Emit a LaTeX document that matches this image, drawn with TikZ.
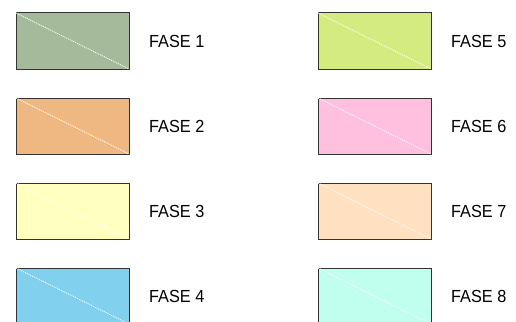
\documentclass[tikz,border=0pt]{standalone}
\usepackage{fontspec}
\setmainfont{Liberation Sans}
\definecolor{c1}{RGB}{165,186,155}
\definecolor{c2}{RGB}{239,184,130}
\definecolor{c3}{RGB}{255,255,192}
\definecolor{c4}{RGB}{128,208,238}
\definecolor{c5}{RGB}{212,235,128}
\definecolor{c6}{RGB}{255,192,224}
\definecolor{c7}{RGB}{255,224,192}
\definecolor{c8}{RGB}{192,255,238}
\begin{document}
\begin{tikzpicture}[x=1pt,y=-1pt,
  swatch/.style={draw=black!80,line width=1pt,minimum width=113pt,minimum height=56pt,inner sep=0pt,outer sep=0pt},
  diag/.style={white,line width=0.9pt,dash pattern=on 1pt off 1pt},
  lbl/.style={anchor=base west,inner sep=0pt,xscale=0.93,font=\fontsize{17.5}{19}\selectfont}]
\useasboundingbox (0,0) rectangle (516,321);
\foreach \i/\x/\y in {1/16/13,2/16/98,3/16/183,4/16/268,5/318/13,6/318/98,7/318/183,8/318/268}{
  \node[swatch,fill=c\i,anchor=north west] (b\i) at (\x,\y) {};
  \draw[diag] (b\i.north west) -- (b\i.south east);
  \node[lbl] (t\i) at (\x+133,\y+34.3) {FASE \i};
}
\end{tikzpicture}
\end{document}
